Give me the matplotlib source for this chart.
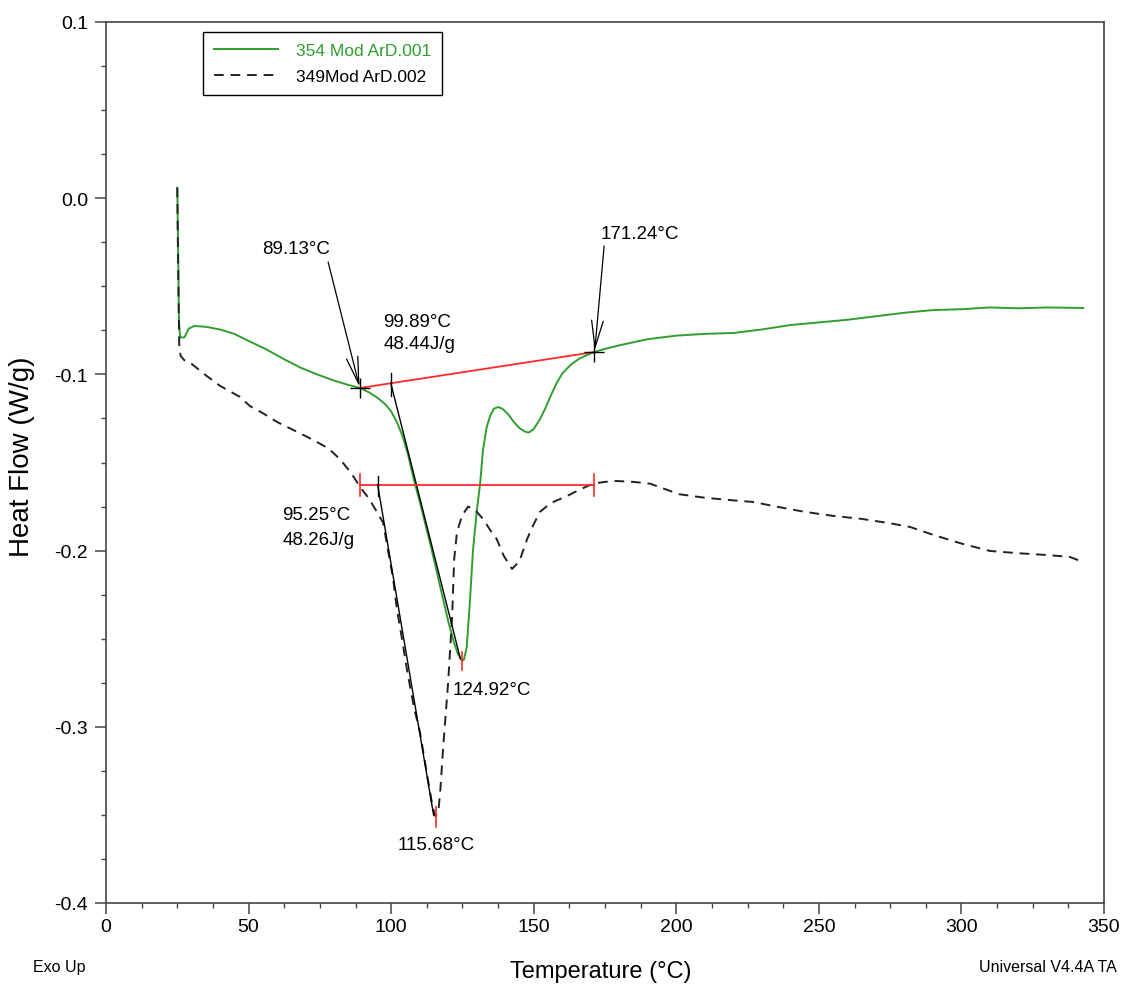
import numpy as np
import matplotlib
matplotlib.use("Agg")
from matplotlib import pyplot as plt
from matplotlib.ticker import MultipleLocator

plt.rcParams['font.family'] = ['Liberation Sans', 'DejaVu Sans']

## Run 1 : 354 Mod ArD.001 (solid green)
t1 = [25.0, 25.3, 25.6, 26.0, 27.5, 29, 31, 35, 40, 45, 50, 56, 62, 68, 74, 80, 85, 89.1,
      92, 95, 98, 100, 102, 104, 106, 108, 110, 112, 114, 116, 118, 120, 122, 123.5, 124.9,
      125.5, 126.5, 127.5, 128.7, 130, 131.2, 132.2, 133.5, 134.7, 136, 137.5, 139, 141, 143,
      145, 147, 148.3, 150, 152, 154, 156, 158, 160, 163, 166, 168.5, 171.2, 175, 180, 190,
      200, 210, 220, 230, 240, 250, 260, 270, 280, 290, 300, 310, 320, 330, 342.7]
hf1 = [0.006, -0.03, -0.07, -0.079, -0.079, -0.074, -0.0725, -0.073, -0.0745, -0.077, -0.081,
       -0.0856, -0.091, -0.096, -0.100, -0.1035, -0.106, -0.1077,
       -0.110, -0.113, -0.117, -0.121, -0.127, -0.135, -0.146, -0.160, -0.172, -0.185, -0.198,
       -0.212, -0.226, -0.240, -0.252, -0.259, -0.2625,
       -0.262, -0.255, -0.232, -0.200, -0.178, -0.162, -0.143, -0.130, -0.1236, -0.1195,
       -0.1185, -0.1195, -0.1225, -0.127, -0.1305, -0.1325, -0.133, -0.131, -0.126, -0.1195,
       -0.112, -0.105, -0.0995, -0.0945, -0.091, -0.0892, -0.0873, -0.0855, -0.0835, -0.080,
       -0.078, -0.077, -0.0765, -0.0745, -0.072, -0.0705, -0.069, -0.067, -0.065, -0.0635,
       -0.063, -0.062, -0.0625, -0.062, -0.0623]

## Run 2 : 349Mod ArD.002 (dashed black)
t2 = [25.0, 25.3, 25.7, 26.2, 27.5, 30, 35, 40, 47, 50.5, 55, 60, 65, 70, 74, 78, 82, 86, 89.1,
      92, 95, 97.2, 98.6, 100.7, 102, 104, 105.6, 108, 110.1, 113, 114.5, 115.4, 116.5,
      117.3, 118.2, 120, 121.4, 122.1, 123.1, 124.9, 127, 129.5, 132.2, 135, 137, 139.5,
      142.4, 145, 147.7, 150, 152.2, 156, 161.7, 166, 170.8, 175, 179.2, 185, 190.8, 201,
      210, 220, 227, 235, 245, 255, 265, 275, 282, 290, 300, 310, 320, 330, 338, 342.7]
hf2 = [0.006, -0.04, -0.085, -0.0896, -0.092, -0.094, -0.1005, -0.1065, -0.1128, -0.118,
       -0.122, -0.127, -0.131, -0.135, -0.1384, -0.142, -0.148, -0.156, -0.1639,
       -0.170, -0.178, -0.1842, -0.197, -0.216, -0.233, -0.252, -0.268, -0.289, -0.303,
       -0.331, -0.345, -0.3506, -0.349, -0.335, -0.3126, -0.2746, -0.237, -0.2048, -0.1894,
       -0.180, -0.175, -0.177, -0.182, -0.189, -0.1934, -0.203, -0.2104, -0.206, -0.1934,
       -0.185, -0.178, -0.173, -0.169, -0.1655, -0.162, -0.161, -0.1605, -0.161, -0.162,
       -0.168, -0.170, -0.1715, -0.1724, -0.175, -0.178, -0.1803, -0.182, -0.1845, -0.1866,
       -0.191, -0.196, -0.2002, -0.2015, -0.2025, -0.2036, -0.2065]

## Analysis results
onset1, end1 = 89.13, 171.24          # baseline limits, run 1
base1 = (-0.1077, -0.0873)
peak1_t, peak1_hf = 124.92, -0.2625
part1_t = 99.89

base2_hf = -0.1625                    # baseline, run 2
peak2_t, peak2_hf = 115.68, -0.3506
part2_t = 95.25

green = '#2f9e2f'
red = '#ff2a2a'

fig = plt.figure(figsize=(11.25, 9.87), dpi=100)
ax = fig.add_axes([106/1125, 83/987, 998/1125, 881/987])

ax.plot(t1, hf1, color=green, lw=1.4, label='354 Mod ArD.001')
ax.plot(t2, hf2, color='#222222', lw=1.4, ls=(0, (5, 3.5)), label='349Mod ArD.002')

# run 1 baseline + markers
ax.plot([onset1, end1], base1, color=red, lw=1.3)
ax.plot([onset1, end1], base1, ls='none', marker='+', ms=14, mew=1.0, color='black')
b_part1 = base1[0] + (part1_t - onset1) / (end1 - onset1) * (base1[1] - base1[0])
ax.plot([part1_t, part1_t], [b_part1 + 0.006, b_part1 - 0.0075], color='black', lw=1)
ax.plot([part1_t, 124.3], [b_part1, -0.2615], color='black', lw=1)
ax.plot([peak1_t, peak1_t], [peak1_hf + 0.005, peak1_hf - 0.0055], color=red, lw=1.2)

# run 2 baseline + markers
ax.plot([onset1, end1], [base2_hf, base2_hf], color=red, lw=1.3)
for tt in (onset1, end1):
    ax.plot([tt, tt], [base2_hf + 0.006, base2_hf - 0.0065], color=red, lw=1.2)
ax.plot([part2_t, part2_t], [base2_hf + 0.005, base2_hf - 0.0065], color='black', lw=1)
ax.plot([part2_t, 114.9], [base2_hf, peak2_hf + 0.0005], color='black', lw=1)
ax.plot([peak2_t, peak2_t], [peak2_hf + 0.005, peak2_hf - 0.006], color=red, lw=1.2)

arrow = dict(arrowstyle='->,head_length=1.3,head_width=0.28', color='black', lw=0.9,
             mutation_scale=15, shrinkA=0, shrinkB=0)
ax.annotate('', xy=(88.9, -0.107), xytext=(77.9, -0.0362), arrowprops=arrow)
ax.annotate('', xy=(171.4, -0.0865), xytext=(174.7, -0.0271), arrowprops=arrow)

fs = 13.5
ax.text(66.8, -0.0288, '89.13°C', fontsize=fs, ha='center', va='center')
ax.text(187.3, -0.0198, '171.24°C', fontsize=fs, ha='center', va='center')
ax.text(97.2, -0.0697, '99.89°C', fontsize=fs, ha='left', va='center')
ax.text(97.2, -0.0827, '48.44J/g', fontsize=fs, ha='left', va='center')
ax.text(61.8, -0.1795, '95.25°C', fontsize=fs, ha='left', va='center')
ax.text(61.8, -0.1937, '48.26J/g', fontsize=fs, ha='left', va='center')
ax.text(121.4, -0.2788, '124.92°C', fontsize=fs, ha='left', va='center')
ax.text(115.8, -0.3668, '115.68°C', fontsize=fs, ha='center', va='center')

ax.set_xlim(0, 350)
ax.set_ylim(-0.4, 0.1)
ax.xaxis.set_major_locator(MultipleLocator(50))
ax.xaxis.set_minor_locator(MultipleLocator(12.5))
ax.yaxis.set_minor_locator(MultipleLocator(0.025))
ax.set_yticks([0.1, 0.0, -0.1, -0.2, -0.3, -0.4])
ax.set_yticklabels(['0.1', '0.0', '-0.1', '-0.2', '-0.3', '-0.4'])
ax.tick_params(which='major', direction='out', length=8, width=1.1, labelsize=14,
               color='#444444')
ax.tick_params(which='minor', direction='out', length=3.5, width=1.0, color='#444444')
ax.tick_params(axis='x', pad=3)
ax.tick_params(axis='y', pad=5)
for s in ax.spines.values():
    s.set_linewidth(1.2)
    s.set_color('#444444')

leg = ax.legend(loc='upper left', bbox_to_anchor=(0.097, 0.989), fontsize=12.5,
                frameon=True, fancybox=False, edgecolor='black', framealpha=1,
                handlelength=3.7, handletextpad=1.0, borderpad=0.65, labelspacing=0.6,
                borderaxespad=0, labelcolor=[green, 'black'])
leg.get_frame().set_linewidth(1.0)

fig.text(22/1125, 1 - 457/987, 'Heat Flow (W/g)', rotation=90, fontsize=20,
         ha='center', va='center')
fig.text(601/1125, 1 - 972/987, 'Temperature (°C)', fontsize=17, ha='center', va='center')
fig.text(33/1125, 1 - 968/987, 'Exo Up', fontsize=11.5, ha='left', va='center')
fig.text(1117/1125, 1 - 968/987, 'Universal V4.4A TA', fontsize=11.5, ha='right', va='center')

fig.savefig('out.png', dpi=100)
